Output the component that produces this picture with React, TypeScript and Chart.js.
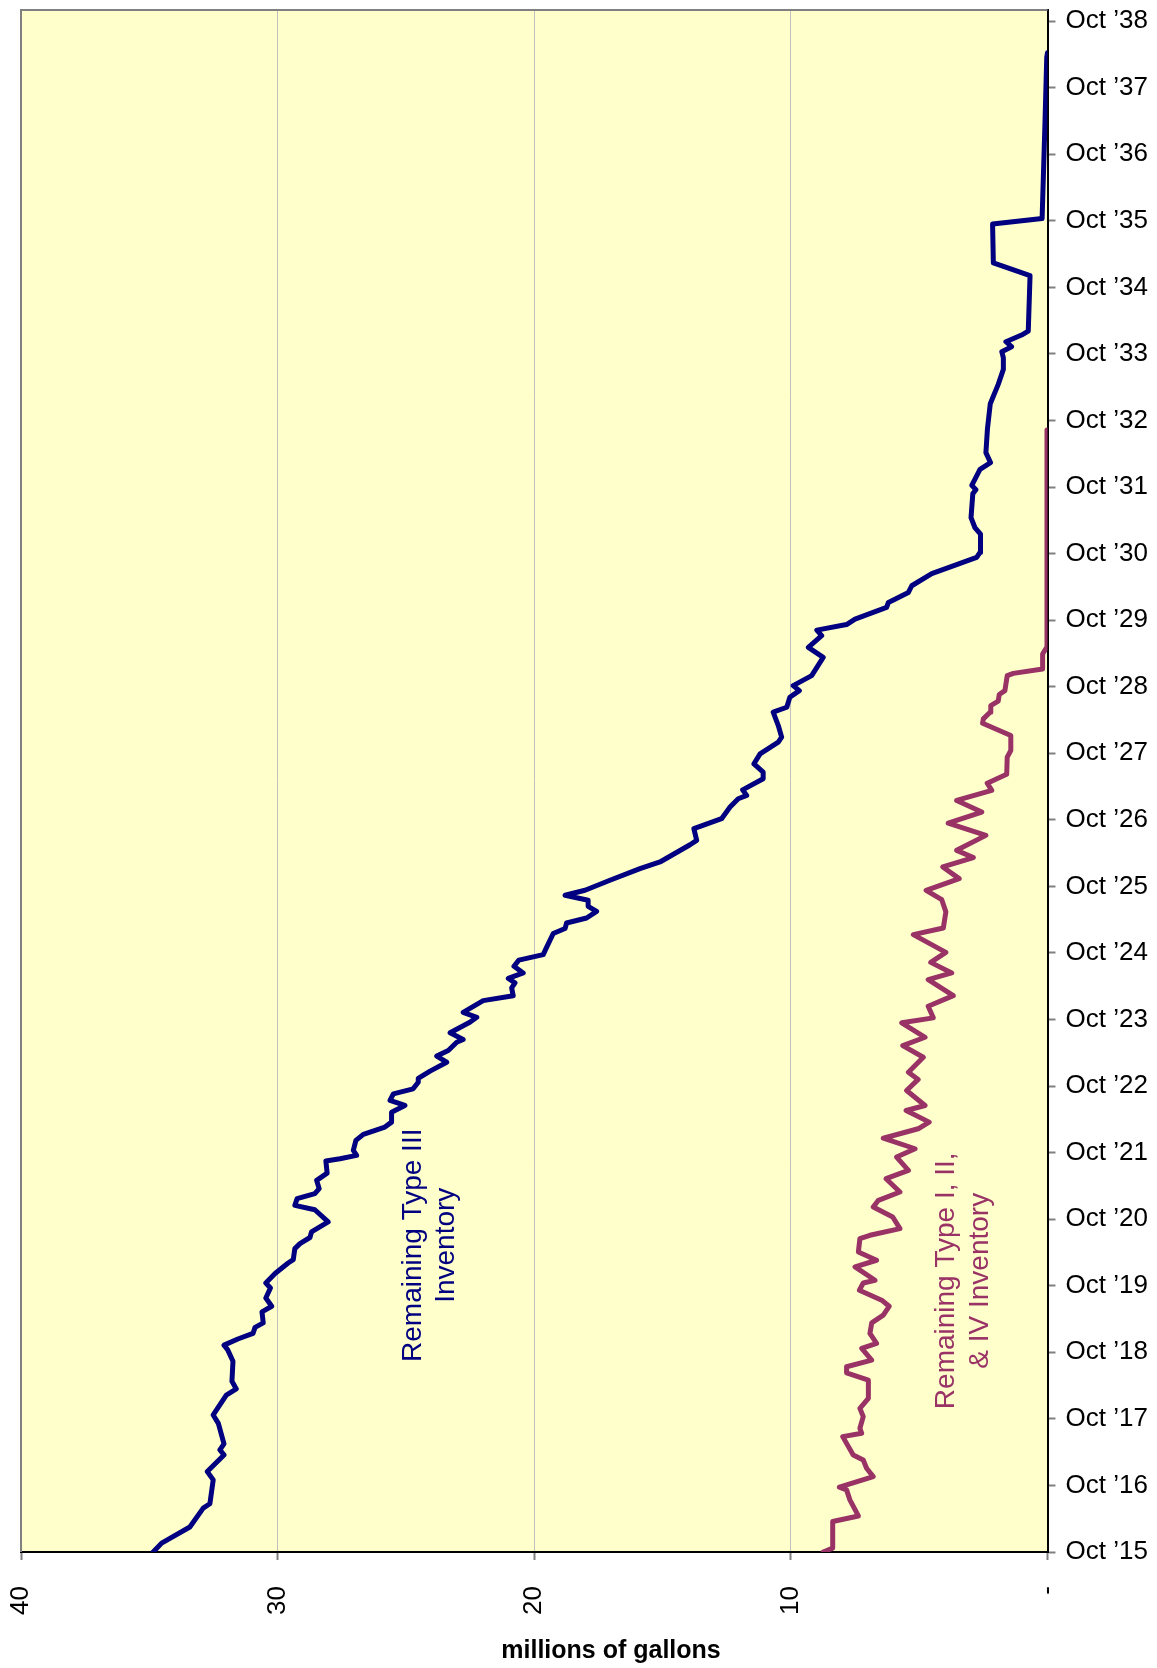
import React, { useEffect, useRef } from "react";
import { Chart, registerables } from "chart.js";

Chart.register(...registerables);

// Tick labels (right axis, one per October)
const yearTickLabels = [
  "Oct ’15", "Oct ’16", "Oct ’17", "Oct ’18", "Oct ’19", "Oct ’20", "Oct ’21", "Oct ’22",
  "Oct ’23", "Oct ’24", "Oct ’25", "Oct ’26", "Oct ’27", "Oct ’28", "Oct ’29", "Oct ’30",
  "Oct ’31", "Oct ’32", "Oct ’33", "Oct ’34", "Oct ’35", "Oct ’36", "Oct ’37", "Oct ’38",
];
const yearTickMonths = [0, 12, 24, 36, 48, 60, 72, 84, 96, 108, 120, 132, 144, 156, 168, 180, 192, 204, 216, 228, 240, 252, 264, 276];
const xTickValues = [40, 30, 20, 10, 0];
const xTickLabels = ["40", "30", "20", "10", "-"];

// Remaining Type III inventory (months after Oct '15, millions of gallons)
const type3Months = [
  0, 1.6, 4.5, 7.9, 8.7, 13.0, 14.5, 17.5, 18.4, 19.5,
  23.2, 24.7, 28.3, 29.4, 30.8, 34.4, 36.4, 37.3, 38.4, 39.4,
  40.5, 41.3, 43.3, 44.3, 45.8, 47.6, 48.5, 50.2, 52.1, 52.7,
  54.7, 55.6, 56.7, 57.7, 59.5, 61.7, 62.5, 63.7, 64.6, 65.5,
  67.0, 68.3, 70.5, 70.9, 71.5, 72.4, 74.2, 75.3, 76.6, 77.5,
  79.3, 80.5, 81.4, 82.6, 83.5, 84.7, 85.4, 86.7, 88.3, 89.4,
  90.4, 91.9, 92.4, 93.6, 95.5, 96.4, 97.3, 99.4, 100.3, 101.7,
  102.6, 103.4, 104.4, 105.6, 106.7, 107.7, 109.0, 111.5, 112.4, 113.4,
  114.3, 115.5, 116.4, 117.5, 118.4, 119.3, 121.1, 123.2, 124.4, 127.5,
  128.3, 130.4, 132.2, 134.3, 135.8, 136.4, 137.4, 139.4, 140.6, 142.1,
  143.9, 146.0, 146.9, 149.0, 151.4, 152.3, 154.1, 155.3, 156.2, 158.0,
  161.3, 163.1, 165.2, 166.2, 167.2, 168.2, 170.3, 171.2, 173.0, 174.2,
  176.4, 179.3, 180.2, 183.5, 184.7, 186.5, 190.8, 191.5, 192.3, 195.2,
  196.4, 198.2, 202.5, 207.0, 210.5, 213.2, 215.3, 216.4, 217.3, 218.2,
  219.4, 220.1, 230.1, 232.4, 239.4, 240.4, 257.4, 269.4, 270.3,
];
const type3Values = [
  34.85, 34.52, 33.42, 32.90, 32.64, 32.51, 32.74, 32.09, 32.25, 32.09,
  32.31, 32.51, 32.00, 31.61, 31.78, 31.74, 31.94, 32.09, 31.55, 30.96,
  30.88, 30.56, 30.61, 30.23, 30.46, 30.28, 30.46, 30.10, 29.59, 29.39,
  29.33, 29.13, 28.74, 28.68, 28.03, 28.55, 29.33, 29.24, 28.55, 28.38,
  28.48, 28.07, 28.12, 27.57, 26.92, 27.05, 26.95, 26.66, 25.82, 25.56,
  25.56, 25.04, 25.62, 25.49, 24.72, 24.52, 24.52, 24.06, 23.41, 23.80,
  23.35, 23.02, 22.77, 23.28, 22.51, 22.24, 22.77, 21.99, 20.82, 20.88,
  20.75, 21.01, 20.43, 20.79, 20.60, 19.65, 19.52, 19.26, 18.80, 18.74,
  17.96, 17.57, 17.90, 17.90, 18.80, 18.02, 17.05, 15.88, 15.10, 13.93,
  13.67, 13.78, 12.70, 12.37, 12.05, 11.72, 11.88, 11.08, 11.08, 11.44,
  11.20, 10.49, 10.36, 10.49, 10.69, 10.16, 10.04, 9.67, 9.91, 9.19,
  8.74, 9.32, 8.80, 8.99, 7.83, 7.50, 6.27, 6.20, 5.42, 5.29,
  4.51, 2.76, 2.63, 2.61, 2.83, 2.98, 2.91, 2.79, 2.95, 2.63,
  2.22, 2.40, 2.34, 2.23, 1.92, 1.72, 1.72, 1.78, 1.40, 1.62,
  1.01, 0.75, 0.68, 2.11, 2.14, 0.21, 0.10, 0.03, 0.00,
];

// Remaining Type I, II & IV inventory
const type124Months = [
  0, 0.7, 5.5, 6.5, 9.4, 11.2, 11.7, 13.6, 15.1, 16.6,
  17.5, 20.8, 21.4, 22.3, 24.4, 25.9, 27.7, 31.0, 32.3, 33.4,
  34.6, 36.7, 37.6, 39.4, 41.3, 42.7, 44.3, 45.4, 47.2, 48.5,
  49.0, 51.4, 52.6, 54.1, 56.5, 57.1, 58.3, 60.4, 62.2, 63.4,
  64.9, 67.3, 68.8, 71.2, 72.7, 74.6, 76.3, 77.5, 79.6, 80.5,
  83.2, 85.2, 86.5, 89.2, 91.3, 92.8, 95.4, 96.3, 98.4, 100.3,
  103.2, 104.4, 106.3, 108.1, 111.3, 112.5, 115.4, 117.6, 119.3, 121.4,
  123.5, 125.2, 126.5, 129.2, 131.4, 133.4, 135.5, 137.3, 138.6, 140.2,
  143.3, 144.5, 147.2, 149.4, 150.2, 151.4, 152.6, 153.4, 154.6, 155.3,
  158.0, 158.4, 159.2, 161.9, 163.1, 171.5, 202.3,
];
const type124Values = [
  8.74, 8.37, 8.37, 7.37, 7.70, 7.83, 8.11, 6.79, 7.05, 7.18,
  7.57, 7.98, 7.24, 7.31, 7.18, 7.31, 6.98, 6.98, 7.83, 7.83,
  6.85, 7.24, 6.66, 6.92, 6.85, 6.40, 6.17, 6.46, 7.33, 7.18,
  6.72, 7.50, 6.66, 7.37, 7.31, 6.92, 5.75, 6.03, 6.79, 6.59,
  5.75, 6.29, 5.42, 5.88, 5.16, 6.40, 5.04, 4.61, 5.51, 4.77,
  5.49, 5.04, 5.42, 4.84, 5.64, 4.77, 5.68, 4.45, 4.65, 3.67,
  4.65, 3.73, 4.55, 3.96, 5.23, 4.06, 3.96, 4.12, 4.73, 3.44,
  4.08, 2.89, 3.54, 2.40, 3.87, 2.56, 3.54, 2.17, 2.35, 1.59,
  1.57, 1.43, 1.43, 2.53, 2.50, 2.24, 2.21, 1.92, 1.88, 1.66,
  1.57, 1.33, 0.19, 0.19, 0.03, 0.02, 0.02,
];

const axisTitle = "millions of gallons";
const type3LabelLines = ["Remaining Type III", "Inventory"];
const type124LabelLines = ["Remaining Type I, II,", "& IV Inventory"];
const type3LabelAnchor = { value: 24.06, month: 55.3 };
const type124LabelAnchor = { value: 3.28, month: 48.9 };

const FONT = "'Liberation Sans', Arial, Helvetica, sans-serif";
const NAVY = "#000080";
const PLUM = "#993366";

export default function App() {
  const ref = useRef<HTMLCanvasElement>(null);

  useEffect(() => {
    const canvas = ref.current;
    if (!canvas) return;

    const bgPlugin = {
      id: "plotBg",
      beforeDraw(chart: any) {
        const { ctx, chartArea: a } = chart;
        ctx.save();
        ctx.fillStyle = "#fff";
        ctx.fillRect(0, 0, chart.width, chart.height);
        ctx.fillStyle = "#FFFFCC";
        ctx.fillRect(a.left, a.top, a.right - a.left, a.bottom - a.top);
        ctx.restore();
      },
    };

    const framePlugin = {
      id: "frame",
      beforeDatasetsDraw(chart: any) {
        const { ctx, chartArea: a } = chart;
        ctx.save();
        ctx.strokeStyle = "#808080";
        ctx.lineWidth = 2;
        ctx.beginPath();
        ctx.moveTo(a.left, a.bottom);
        ctx.lineTo(a.left, a.top);
        ctx.lineTo(a.right, a.top);
        ctx.stroke();
        ctx.restore();
      },
    };

    const textPlugin = {
      id: "texts",
      afterDraw(chart: any) {
        const { ctx } = chart;
        const xs = chart.scales.x;
        const ys = chart.scales.y;
        const drawRotated = (lines: string[], anchor: { value: number; month: number }, color: string) => {
          const cx = xs.getPixelForValue(anchor.value);
          const cy = ys.getPixelForValue(anchor.month);
          ctx.save();
          ctx.translate(cx, cy);
          ctx.rotate(-Math.PI / 2);
          ctx.fillStyle = color;
          ctx.font = `28px ${FONT}`;
          ctx.textAlign = "center";
          ctx.textBaseline = "middle";
          const lh = 33.4;
          lines.forEach((t, i) => {
            ctx.fillText(t, 0, (i - (lines.length - 1) / 2) * lh);
          });
          ctx.restore();
        };
        drawRotated(type3LabelLines, type3LabelAnchor, NAVY);
        drawRotated(type124LabelLines, type124LabelAnchor, PLUM);

        ctx.save();
        ctx.fillStyle = "#000";
        ctx.font = `bold 25px ${FONT}`;
        ctx.textAlign = "center";
        ctx.textBaseline = "middle";
        ctx.fillText(axisTitle, 611, 1651);
        ctx.restore();
      },
    };

    const chart = new Chart(canvas, {
      type: "scatter",
      data: {
        datasets: [
          {
            label: "Remaining Type III Inventory",
            data: type3Months.map((m, i) => ({ x: type3Values[i], y: m })),
            showLine: true,
            borderColor: NAVY,
            backgroundColor: NAVY,
            borderWidth: 5,
            pointRadius: 0,
            tension: 0,
            fill: false,
            borderJoinStyle: "round",
            borderCapStyle: "round",
          },
          {
            label: "Remaining Type I, II, & IV Inventory",
            data: type124Months.map((m, i) => ({ x: type124Values[i], y: m })),
            showLine: true,
            borderColor: PLUM,
            backgroundColor: PLUM,
            borderWidth: 5,
            pointRadius: 0,
            tension: 0,
            fill: false,
            borderJoinStyle: "round",
            borderCapStyle: "round",
          },
        ],
      },
      options: {
        responsive: false,
        animation: false,
        devicePixelRatio: 1,
        layout: { padding: { left: 21, top: 10, right: 0, bottom: 0 } },
        plugins: {
          legend: { display: false },
          tooltip: { enabled: false },
        },
        scales: {
          x: {
            type: "linear",
            position: "bottom",
            min: 0,
            max: 40,
            reverse: true,
            afterBuildTicks: (s: any) => {
              s.ticks = xTickValues.map((v) => ({ value: v }));
            },
            afterFit: (s: any) => {
              s.height = 116;
              s.paddingLeft = 0;
              s.paddingRight = 0;
            },
            ticks: {
              autoSkip: false,
              minRotation: 90,
              maxRotation: 90,
              padding: 26,
              color: "#000",
              font: { family: FONT, size: 26 },
              callback: (v: any) => {
                const i = xTickValues.findIndex((t) => Math.abs(t - Number(v)) < 1e-6);
                return i >= 0 ? xTickLabels[i] : "";
              },
            },
            grid: {
              color: "#c0c0c0",
              lineWidth: 1,
              drawTicks: true,
              tickLength: 8,
              tickColor: "#808080",
              tickWidth: 2,
            },
            border: { display: true, color: "#000", width: 2 },
          },
          y: {
            type: "linear",
            position: "right",
            min: 0,
            max: 278,
            afterBuildTicks: (s: any) => {
              s.ticks = yearTickMonths.map((v) => ({ value: v }));
            },
            afterFit: (s: any) => {
              s.width = 109.5;
              s.paddingTop = 0;
              s.paddingBottom = 0;
            },
            ticks: {
              autoSkip: false,
              padding: 10,
              color: "#000",
              font: { family: FONT, size: 26 },
              callback: (v: any) => {
                const i = yearTickMonths.findIndex((t) => Math.abs(t - Number(v)) < 1e-6);
                return i >= 0 ? yearTickLabels[i] : "";
              },
            },
            grid: {
              drawOnChartArea: false,
              drawTicks: true,
              tickLength: 8,
              color: "#808080",
              tickColor: "#808080",
              tickWidth: 2,
            },
            border: { display: true, color: "#000", width: 2 },
          },
        },
      },
      plugins: [bgPlugin, framePlugin, textPlugin],
    } as any);

    return () => chart.destroy();
  }, []);

  return (
    <div style={{ position: "absolute", left: 0, top: 0, width: 1157, height: 1668, background: "#fff" }}>
      <canvas ref={ref} width={1157} height={1668} style={{ width: 1157, height: 1668, display: "block" }} />
    </div>
  );
}
